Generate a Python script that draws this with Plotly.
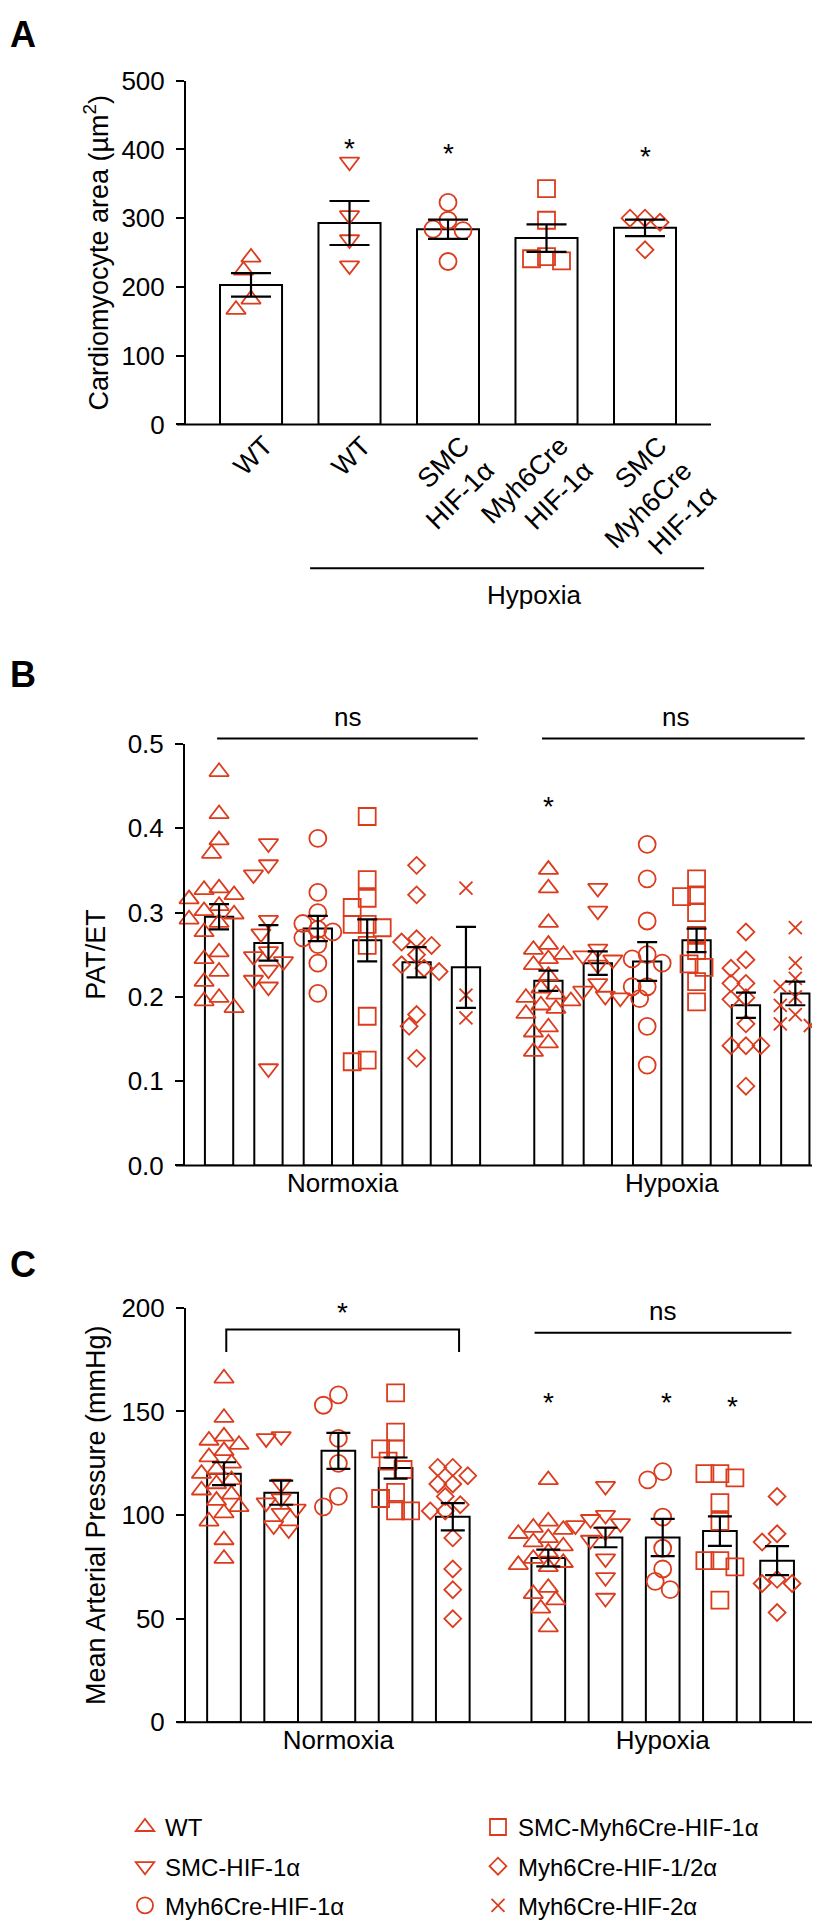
import plotly.graph_objects as go

W, H = 820, 1928
OFF = 8          # browser body margin; figure is drawn OFF px right/down of the page corner
FW, FH = W - OFF, H - OFF
RED = "#DC3C1E"
SANS = "Liberation Sans, Arial, Helvetica"

# ---------------- data ----------------
groups = ["WT", "SMC-HIF-1α", "Myh6Cre-HIF-1α", "SMC-Myh6Cre-HIF-1α",
          "Myh6Cre-HIF-1/2α", "Myh6Cre-HIF-2α"]
symbols = ["triangle-up-open", "triangle-down-open", "circle-open",
           "square-open", "diamond-open", "x-thin-open"]

# panel A: cardiomyocyte area
a_labels = ["WT", "WT", "SMC<br>HIF-1α", "Myh6Cre<br>HIF-1α", "SMC<br>Myh6Cre<br>HIF-1α"]
a_sym = ["triangle-up-open", "triangle-down-open", "circle-open", "square-open", "diamond-open"]
a_points = [
    [243, 224, 182, 167],
    [382, 304, 269, 231],
    [323, 297, 284, 282, 237],
    [343, 297, 244, 241, 238],
    [300, 300, 294, 254],
]
a_mean = [203, 293, 284, 271, 286]
a_sem = [17, 32, 14, 20, 12]
a_star = [None, 405, 399, None, 394]

# panel B: PAT/ET
b_norm = [
    [0.467, 0.417, 0.386, 0.370, 0.329, 0.327, 0.321, 0.316, 0.308, 0.302, 0.298,
     0.292, 0.288, 0.277, 0.253, 0.245, 0.230, 0.218, 0.199, 0.195, 0.187],
    [0.382, 0.357, 0.345, 0.291, 0.275, 0.254, 0.248, 0.242, 0.232, 0.220, 0.212, 0.115],
    [0.388, 0.324, 0.300, 0.287, 0.280, 0.277, 0.270, 0.262, 0.240, 0.204],
    [0.414, 0.339, 0.317, 0.306, 0.286, 0.286, 0.282, 0.261, 0.177, 0.125, 0.123],
    [0.356, 0.321, 0.269, 0.265, 0.261, 0.250, 0.238, 0.234, 0.230, 0.179, 0.165, 0.127],
    [0.329, 0.202, 0.175],
]
b_norm_mean = [0.295, 0.264, 0.281, 0.267, 0.241, 0.235]
b_norm_sem = [0.015, 0.021, 0.015, 0.025, 0.018, 0.048]
b_hyp = [
    [0.351, 0.329, 0.288, 0.262, 0.256, 0.250, 0.245, 0.238, 0.225, 0.210, 0.203,
     0.199, 0.195, 0.190, 0.186, 0.180, 0.164, 0.158, 0.145, 0.135],
    [0.329, 0.302, 0.257, 0.249, 0.244, 0.238, 0.216, 0.207, 0.201, 0.199],
    [0.381, 0.340, 0.290, 0.250, 0.245, 0.240, 0.212, 0.212, 0.198, 0.165, 0.119],
    [0.340, 0.321, 0.319, 0.300, 0.273, 0.255, 0.239, 0.235, 0.218, 0.194],
    [0.277, 0.244, 0.234, 0.216, 0.216, 0.199, 0.197, 0.168, 0.142, 0.142, 0.142, 0.094],
    [0.282, 0.240, 0.222, 0.212, 0.200, 0.190, 0.179, 0.168, 0.166],
]
b_hyp_mean = [0.219, 0.240, 0.242, 0.267, 0.190, 0.204]
b_hyp_sem = [0.012, 0.014, 0.023, 0.014, 0.015, 0.014]
b_star = [0.43, None, None, None, None, None]

# panel C: mean arterial pressure
c_norm = [
    [166, 147, 138, 136, 134, 131, 128, 125, 122, 120, 117, 115, 112, 110, 107, 104, 101, 97, 88, 79],
    [138, 137, 115, 108, 106, 103, 101, 95, 93],
    [158, 153, 137, 125, 109, 104],
    [159, 140, 132, 132, 126, 122, 111, 108, 102, 102],
    [123, 123, 119, 115, 115, 109, 105, 102, 102, 89, 74, 64, 50],
]
c_norm_mean = [120, 110.8, 131, 122.7, 99.2]
c_norm_sem = [5.5, 5.8, 8.7, 5.1, 6.6]
c_hyp = [
    [117, 97, 94, 93, 91, 89, 87, 85, 82, 79, 77, 76, 75, 65, 62, 59, 55, 46],
    [114, 100, 98, 96, 95, 92, 88, 79, 70, 60],
    [121, 117, 99, 84, 74, 68, 64],
    [120, 120, 118, 106, 97, 78, 78, 75, 59],
    [109, 91, 87, 69, 67, 67, 53],
]
c_hyp_mean = [79.3, 89.2, 89.2, 92.3, 78]
c_hyp_sem = [4, 4.7, 9, 7.1, 7]
c_star = [156, None, 156, 154, None]

# ---------------- layout geometry (page pixels) ----------------
# (x_left, x_right, y_top, y_bottom, x_range, y_range)
geo = {
    "A": (186, 711, 66.7, 416.7, [-0.66, 4.67], [0, 500]),
    "B": (185, 820, 742, 1171, [-0.69, 12.17], [0, 0.5]),
    "C": (186, 820, 1316, 1738, [-0.664, 10.42], [0, 200]),
}
HYP_B = 6.67   # x position of first hypoxia bar, panel B
HYP_C = 5.67


def px(x):
    return (x - OFF) / FW


def py(y):
    return 1 - (y - OFF) / FH


def px_scale(key):
    x0, x1, yt, yb, xr, yr = geo[key]
    return (x1 - x0) / (xr[1] - xr[0]), (yb - yt) / (yr[1] - yr[0])


def swarm(vals, key, min_px=14.0, step_px=7.5):
    sx, sy = px_scale(key)
    placed = []
    offs = [0.0] * len(vals)
    cands = [0]
    for m in range(1, 8):
        cands += [-m, m]
    for i in sorted(range(len(vals)), key=lambda k: -vals[k]):
        y = vals[i] * sy
        xo = 0
        for c in cands:
            xo = c * step_px
            if all((xo - p) ** 2 + (y - q) ** 2 >= min_px ** 2 for p, q in placed):
                break
        placed.append((xo, y))
        offs[i] = xo / sx
    return offs


fig = go.Figure()


def add_group(key, xa, ya, centers, pts, means, sems, syms, bar_w, cap, names=None, legends=None):
    fig.add_trace(go.Bar(x=centers, y=means, width=bar_w, xaxis=xa, yaxis=ya,
                         marker=dict(color="white", line=dict(color="black", width=2)),
                         showlegend=False, hoverinfo="skip"))
    for i, (c, vals) in enumerate(zip(centers, pts)):
        offs = swarm(vals, key)
        show = names is not None
        small = "diamond" in syms[i] or "x-thin" in syms[i]
        fig.add_trace(go.Scatter(
            x=[c + o for o in offs], y=vals, mode="markers", xaxis=xa, yaxis=ya,
            marker=dict(symbol=syms[i], size=13 if small else 17,
                        color=RED, line=dict(color=RED, width=1.8)),
            name=names[i] if show else None, showlegend=show,
            legend=legends[i] if show else None,
            legendgroup=names[i] if show else None, cliponaxis=False))
    fig.add_trace(go.Scatter(
        x=centers, y=means, mode="markers", xaxis=xa, yaxis=ya,
        marker=dict(size=1, color="rgba(0,0,0,0)"),
        error_y=dict(type="data", array=sems, color="black", thickness=2.2, width=cap),
        showlegend=False, hoverinfo="skip"))


# panel A
a_x = list(range(5))
add_group("A", "x", "y", a_x, a_points, a_mean, a_sem, a_sym, 0.63, 20)

# panel B
bn_x = list(range(6))
bh_x = [HYP_B + i for i in range(6)]
leg_assign = ["legend", "legend", "legend", "legend2", "legend2", "legend2"]
add_group("B", "x2", "y2", bn_x, b_norm, b_norm_mean, b_norm_sem, symbols, 0.573, 10,
          names=groups, legends=leg_assign)
add_group("B", "x2", "y2", bh_x, b_hyp, b_hyp_mean, b_hyp_sem, symbols, 0.573, 10)

# panel C
cn_x = list(range(5))
ch_x = [HYP_C + i for i in range(5)]
add_group("C", "x3", "y3", cn_x, c_norm, c_norm_mean, c_norm_sem, symbols[:5], 0.589, 12)
add_group("C", "x3", "y3", ch_x, c_hyp, c_hyp_mean, c_hyp_sem, symbols[:5], 0.589, 12)

annotations = []
shapes = []


def label(text, xref, yref, x, y, size=26, **kw):
    d = dict(text=text, x=x, y=y, xref=xref, yref=yref, showarrow=False,
             xanchor="center", yanchor="middle",
             font=dict(size=size, family=SANS, color="black"))
    d.update(kw)
    annotations.append(d)


def star(xref, yref, x, y):
    label("*", xref, yref, x, y, size=28, yshift=-3)


for x, s in zip(a_x, a_star):
    if s is not None:
        star("x", "y", x, s)
for x, s in zip(bh_x, b_star):
    if s is not None:
        star("x2", "y2", x, s)
c_star_x = [ch_x[0], ch_x[2] + 0.07, ch_x[3] + 0.22]
for x, s in zip(c_star_x, [v for v in c_star if v is not None]):
    star("x3", "y3", x, s)

# axis baselines (extend slightly left of the y axis, Prism style)
for k, (xa, ya) in {"A": ("x", "y"), "B": ("x2", "y2"), "C": ("x3", "y3")}.items():
    x0, x1 = geo[k][0], geo[k][1]
    shapes.append(dict(type="line", xref=f"{xa} domain", yref=f"{ya} domain",
                       x0=-9 / (x1 - x0), x1=1, y0=0, y1=0, line=dict(color="black", width=2)))

# panel A: rotated category labels, right-aligned, first line ending just under the bar
LINE_H = 27 * 1.3
for x, t in zip(a_x, a_labels):
    n = t.count("<br>") + 1
    h = n * LINE_H + 2
    label(t, "x", "y domain", x, 0, size=27, textangle=-45, align="right",
          xanchor="right", yanchor="top", xshift=4 + h / 2 ** 0.5, yshift=-3)

# panel A hypoxia bracket
shapes.append(dict(type="line", xref="x", yref="y domain", x0=0.6, x1=4.6, y0=-0.418, y1=-0.418,
                   line=dict(color="black", width=2)))
label("Hypoxia", "x", "y domain", 2.87, -0.495)

# panel B ns lines
for xa0, xa1, xt in [(-0.04, 5.24, 2.6), (6.54, 11.86, 9.25)]:
    shapes.append(dict(type="line", xref="x2", yref="y2 domain", x0=xa0, x1=xa1, y0=1.013, y1=1.013,
                       line=dict(color="black", width=2)))
    label("ns", "x2", "y2 domain", xt, 1.065)

# panel C bracket + ns line
shapes.append(dict(type="path", xref="x3", yref="y3",
                   path="M 0.04,178.7 L 0.04,189.6 L 4.11,189.6 L 4.11,178.7",
                   line=dict(color="black", width=2)))
star("x3", "y3", 2.07, 199)
shapes.append(dict(type="line", xref="x3", yref="y3", x0=5.43, x1=9.92, y0=188, y1=188,
                   line=dict(color="black", width=2)))
label("ns", "x3", "y3", 7.67, 198.6)

# panel letters
for letter, ypix in [("A", 20), ("B", 671), ("C", 1272)]:
    label(f"<b>{letter}</b>", "paper", "paper", 0, py(ypix), size=36, xanchor="left")

# y axis titles
for title, ya in [("Cardiomyocyte area (µm<sup>2</sup>)", "y"), ("PAT/ET", "y2"),
                  ("Mean Arterial Pressure (mmHg)", "y3")]:
    label(title, "paper", f"{ya} domain", px(96), 0.5, size=27, textangle=-90)


axis_common = dict(showgrid=False, zeroline=False, color="black", linecolor="black")
tickfont = dict(size=26, family=SANS, color="black")

layout = dict(
    width=FW, height=FH, margin=dict(l=0, r=0, t=0, b=0),
    paper_bgcolor="white", plot_bgcolor="white",
    font=dict(family=SANS, size=26, color="black"),
    barmode="overlay", showlegend=True,
    annotations=annotations, shapes=shapes,
    legend=dict(x=px(125), y=py(1822), xanchor="left", yanchor="top",
                traceorder="grouped", tracegroupgap=5,
                font=dict(size=24, family=SANS), bgcolor="rgba(0,0,0,0)"),
    legend2=dict(x=px(478), y=py(1822), xanchor="left", yanchor="top",
                 traceorder="grouped", tracegroupgap=5,
                 font=dict(size=24, family=SANS), bgcolor="rgba(0,0,0,0)"),
)
for i, k in enumerate(["A", "B", "C"]):
    x0, x1, yt, yb, xr, yr = geo[k]
    sfx = "" if i == 0 else str(i + 1)
    xa = dict(axis_common, domain=[px(x0), min(px(x1), 1)], range=xr, anchor=f"y{sfx}",
              showline=False, ticks="", tickfont=tickfont)
    ya = dict(axis_common, domain=[py(yb), py(yt)], range=yr, anchor=f"x{sfx}",
              showline=True, linewidth=2, ticks="outside", ticklen=8, tickwidth=2,
              tickfont=tickfont, ticklabelstandoff=6)
    layout[f"xaxis{sfx}"] = xa
    layout[f"yaxis{sfx}"] = ya

layout["xaxis"].update(showticklabels=False)
layout["yaxis"].update(tickvals=[0, 100, 200, 300, 400, 500])
layout["xaxis2"].update(tickvals=[2.5, HYP_B + 2.5], ticktext=["Normoxia", "Hypoxia"])
layout["yaxis2"].update(tickvals=[0, 0.1, 0.2, 0.3, 0.4, 0.5], tickformat=".1f")
layout["xaxis3"].update(tickvals=[2, HYP_C + 2], ticktext=["Normoxia", "Hypoxia"])
layout["yaxis3"].update(tickvals=[0, 50, 100, 150, 200])

fig.update_layout(**layout)
fig.write_html("out.html")
